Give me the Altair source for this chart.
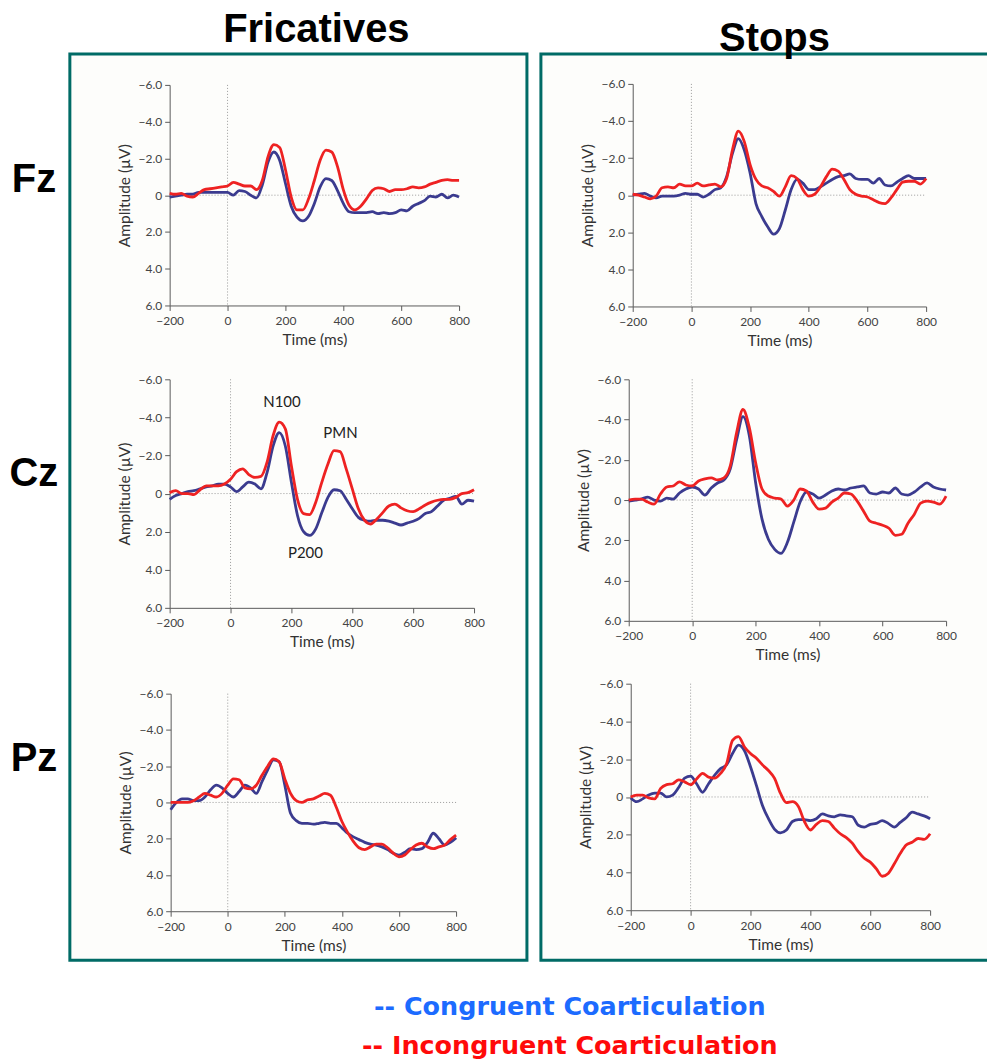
import altair as alt
import pandas as pd

# ---------------- data ----------------
TIMES = list(range(-200, 801, 20))   # ms, sample grid

FRIC_FZ_CON = [0.1, 0.05, 0, -0.05, -0.05, -0.15, -0.15, -0.15, -0.15, -0.15,
               -0.15, 0, -0.25, -0.2, 0, 0.15, -0.55, -1.8, -2.35, -1.9,
               -0.65, 0.6, 1.2, 1.4, 1.15, 0.45, -0.45, -0.9, -0.8, -0.25,
               0.45, 0.9, 0.95, 0.95, 0.95, 0.9, 1.0, 0.95, 1.0, 0.95,
               0.8, 0.85, 0.6, 0.45, 0.3, 0.05, 0.1, -0.05, 0.15, 0.0, 0.1]
FRIC_FZ_INC = [-0.1, -0.05, -0.1, 0.05, 0.1, -0.1, -0.3, -0.35, -0.4, -0.45,
               -0.5, -0.7, -0.6, -0.5, -0.5, -0.3, -0.8, -2.1, -2.75, -2.6,
               -1.4, 0.1, 0.8, 0.8, 0.2, -0.8, -1.9, -2.45, -2.35, -1.55,
               -0.3, 0.55, 0.8, 0.6, 0.2, -0.25, -0.4, -0.35, -0.2, -0.3,
               -0.3, -0.35, -0.45, -0.4, -0.45, -0.6, -0.7, -0.8, -0.85, -0.8, -0.8]

STOP_FZ_CON = [0, -0.05, -0.1, 0.05, 0.15, 0.05, 0.05, 0.05, 0, -0.1,
               -0.05, -0.05, 0.1, -0.05, -0.3, -0.4, -1.0, -2.25, -3.05, -2.45,
               -1.2, 0.45, 1.15, 1.7, 2.1, 1.8, 0.8, -0.3, -0.85, -0.65,
               -0.3, -0.3, -0.45, -0.65, -0.85, -1.0, -1.05, -1.15, -0.9, -0.85,
               -0.85, -0.65, -0.9, -0.55, -0.5, -0.7, -0.9, -1.05, -0.9, -0.9, -0.9]
STOP_FZ_INC = [-0.05, 0, 0.1, 0.2, 0.05, -0.4, -0.45, -0.4, -0.6, -0.5,
               -0.5, -0.65, -0.5, -0.55, -0.6, -0.45, -0.9, -2.45, -3.45, -2.9,
               -1.65, -0.85, -0.5, -0.4, -0.2, 0.05, -0.45, -1.05, -0.9, -0.3,
               0.05, -0.05, -0.45, -1.0, -1.4, -1.3, -0.85, -0.3, -0.05, 0.05,
               0.1, 0.25, 0.4, 0.45, 0.15, -0.3, -0.7, -0.75, -0.75, -0.6, -0.9]

FRIC_CZ_CON = [0.3, 0.1, 0, -0.1, -0.15, -0.25, -0.35, -0.4, -0.5, -0.5,
               -0.35, -0.1, -0.35, -0.6, -0.5, -0.25, -1.1, -2.5, -3.2, -2.5,
               -0.6, 1.15, 2.0, 2.2, 1.85, 1.0, 0.2, -0.2, -0.15, 0.3,
               0.8, 1.25, 1.4, 1.45, 1.4, 1.4, 1.45, 1.55, 1.65, 1.55,
               1.45, 1.3, 1.05, 0.95, 0.65, 0.35, 0.25, 0.15, 0.55, 0.35, 0.4]
FRIC_CZ_INC = [-0.05, -0.15, 0, 0, 0.05, -0.2, -0.4, -0.4, -0.4, -0.5,
               -0.75, -1.15, -1.3, -1.0, -0.85, -0.9, -1.65, -3.05, -3.75, -3.4,
               -1.45, 0.3, 1.05, 1.1, 0.45, -0.6, -1.55, -2.25, -2.2, -1.3,
               -0.25, 0.8, 1.4, 1.6, 1.35, 1.0, 0.65, 0.55, 0.75, 0.9,
               0.95, 0.8, 0.6, 0.45, 0.35, 0.3, 0.3, 0.2, 0.0, -0.05, -0.2]

STOP_CZ_CON = [0.05, 0, -0.05, -0.15, 0, 0.05, -0.1, -0.05, -0.35, -0.55,
               -0.65, -0.55, -0.25, -0.6, -0.85, -1.0, -1.55, -3.0, -4.15, -3.2,
               -0.85, 0.95, 1.95, 2.45, 2.65, 2.1, 1.1, 0.1, -0.4, -0.3,
               -0.1, -0.25, -0.45, -0.55, -0.5, -0.6, -0.65, -0.7, -0.35, -0.3,
               -0.4, -0.35, -0.6, -0.3, -0.25, -0.4, -0.65, -0.85, -0.65, -0.55, -0.5]
STOP_CZ_INC = [0, -0.05, -0.05, 0.1, 0.2, -0.3, -0.65, -0.7, -0.9, -0.75,
               -0.7, -0.95, -1.05, -1.1, -1.0, -1.1, -1.7, -3.35, -4.5, -3.6,
               -1.85, -0.55, -0.2, -0.1, -0.05, 0.3, 0.0, -0.55, -0.45, 0.1,
               0.45, 0.4, 0.1, -0.1, -0.35, -0.3, 0.05, 0.55, 1.05, 1.15,
               1.25, 1.4, 1.75, 1.7, 1.15, 0.7, 0.15, 0.05, 0.1, 0.2, -0.2]

FRIC_PZ_CON = [0.4, 0, -0.2, -0.2, -0.1, -0.1, -0.3, -0.7, -0.95, -0.8,
               -0.5, -0.3, -0.6, -0.95, -0.8, -0.5, -1.15, -1.8, -2.35, -2.25,
               -0.95, 0.6, 1.0, 1.15, 1.15, 1.2, 1.15, 1.1, 1.15, 1.15,
               1.4, 1.7, 1.9, 2.05, 2.2, 2.3, 2.35, 2.45, 2.6, 2.8,
               2.9, 2.75, 2.55, 2.6, 2.55, 2.2, 1.7, 2.0, 2.35, 2.2, 1.95]
FRIC_PZ_INC = [0, 0, 0, 0, -0.1, -0.3, -0.5, -0.4, -0.3, -0.5,
               -0.95, -1.3, -1.25, -0.8, -0.75, -0.95, -1.5, -2.0, -2.4, -2.25,
               -1.3, -0.5, -0.1, 0, -0.15, -0.2, -0.35, -0.5, -0.4, 0.25,
               1.05, 1.65, 2.15, 2.5, 2.6, 2.45, 2.3, 2.3, 2.5, 2.8,
               3.0, 2.9, 2.6, 2.35, 2.25, 2.45, 2.55, 2.45, 2.35, 2.05, 1.8]

STOP_PZ_CON = [0.05, 0.25, 0.1, -0.1, -0.2, -0.2, 0, -0.1, -0.5, -1.0,
               -1.1, -0.7, -0.25, -0.7, -1.15, -1.5, -1.7, -2.3, -2.75, -2.45,
               -1.6, -0.6, 0.45, 1.15, 1.7, 1.9, 1.75, 1.3, 1.2, 1.2,
               1.25, 1.15, 0.9, 1.0, 1.05, 0.95, 1.0, 1.05, 1.5, 1.6,
               1.45, 1.4, 1.25, 1.4, 1.6, 1.35, 1.1, 0.8, 0.9, 1.0, 1.15]
STOP_PZ_INC = [0, -0.1, -0.1, 0.05, 0.1, -0.45, -0.65, -0.7, -0.9, -0.8,
               -0.65, -0.95, -1.25, -1.05, -1.0, -1.25, -1.75, -3.0, -3.2, -2.65,
               -2.3, -2.05, -1.7, -1.4, -1.0, -0.2, 0.3, 0.25, 0.5, 1.3,
               1.75, 1.45, 1.25, 1.3, 1.65, 1.95, 2.15, 2.45, 2.9, 3.25,
               3.45, 3.8, 4.2, 4.05, 3.55, 3.0, 2.55, 2.4, 2.2, 2.25, 1.95]

CONDITIONS = ["Congruent", "Incongruent"]
COLUMN_TITLES = ["Fricatives", "Stops"]
ROW_LABELS = ["Fz", "Cz", "Pz"]
X_TICKS = [-200, 0, 200, 400, 600, 800]
Y_TICKS = [-6, -4, -2, 0, 2, 4, 6]
ANNOT_TEXT = ["N100", "PMN", "P200"]
ANNOT_TIME = [169, 361, 246]
ANNOT_AMP = [-4.8, -3.2, 3.1]
LEGEND_TEXT = ["-- Congruent Coarticulation", "-- Incongruent Coarticulation"]

# ---------------- layout (pixels) ----------------
COL_W = [458, 450]
COL_H = 908
# per panel: x-range, y-range inside each column view
LAYOUT = {
    ("Fricatives", "Fz"): ([100, 390], [31, 252]),
    ("Fricatives", "Cz"): ([100, 405], [326, 555]),
    ("Fricatives", "Pz"): ([101, 387], [641, 859]),
    ("Stops", "Fz"): ([92, 386], [30, 253]),
    ("Stops", "Cz"): ([88, 406], [326, 568]),
    ("Stops", "Pz"): ([90, 390], [631, 858]),
}
SERIES = {
    ("Fricatives", "Fz"): (FRIC_FZ_CON, FRIC_FZ_INC),
    ("Fricatives", "Cz"): (FRIC_CZ_CON, FRIC_CZ_INC),
    ("Fricatives", "Pz"): (FRIC_PZ_CON, FRIC_PZ_INC),
    ("Stops", "Fz"): (STOP_FZ_CON, STOP_FZ_INC),
    ("Stops", "Cz"): (STOP_CZ_CON, STOP_CZ_INC),
    ("Stops", "Pz"): (STOP_PZ_CON, STOP_PZ_INC),
}

BLUE = "#3b3b8f"
RED = "#ee2222"
AXIS_COLOR = "#5a5a5a"
FONT = "Lato"
BOLD_FONT = "Liberation Sans"
LEGEND_FONT = "DejaVu Sans"


def make_panel(key):
    xr, yr = LAYOUT[key]
    con, inc = SERIES[key]
    n = len(TIMES)
    df = pd.DataFrame({
        "time": TIMES + TIMES,
        "amp": con + inc,
        "cond": [CONDITIONS[0]] * n + [CONDITIONS[1]] * n,
    })
    common = dict(labelFlush=False, labelOverlap=False, grid=False, tickSize=5,
                  domainColor=AXIS_COLOR, tickColor=AXIS_COLOR, labelColor="#444",
                  labelFont=FONT, labelFontSize=12, titleFont=FONT,
                  titleFontSize=15.5, titleFontWeight="normal", titleColor="#333")
    x_axis = alt.Axis(orient="bottom", offset=yr[1] - COL_H, values=X_TICKS,
                      title="Time (ms)", titlePadding=6, labelPadding=5, **common)
    y_axis = alt.Axis(orient="left", offset=-xr[0], values=Y_TICKS,
                      labelExpr="datum.value == 0 ? '0' : format(datum.value, '.1f')",
                      title="Amplitude (µV)", titlePadding=6, labelPadding=3, **common)
    xs = alt.Scale(domain=[-200, 800], range=xr, nice=False, zero=False)
    ys = alt.Scale(domain=[-6, 6], range=yr, nice=False, zero=False)
    x_enc = alt.X("time:Q", scale=xs, axis=x_axis)
    y_enc = alt.Y("amp:Q", scale=ys, axis=y_axis)

    vline = alt.Chart(pd.DataFrame({"time": [0], "amp": [-6], "amp2": [6]})).mark_rule(
        color="#9a9a9a", strokeDash=[1, 2], strokeWidth=1
    ).encode(x=x_enc, y=y_enc, y2="amp2:Q")
    hline = alt.Chart(pd.DataFrame({"time": [-200], "time2": [800], "amp": [0]})).mark_rule(
        color="#9a9a9a", strokeDash=[1, 2], strokeWidth=1
    ).encode(x=x_enc, x2="time2:Q", y=y_enc)
    lines = alt.Chart(df).mark_line(interpolate="monotone", strokeWidth=2.8).encode(
        x=x_enc, y=y_enc,
        color=alt.Color("cond:N", scale=alt.Scale(domain=CONDITIONS, range=[BLUE, RED]),
                        legend=None),
    )
    layers = [vline, hline, lines]
    if key == ("Fricatives", "Cz"):
        ann = alt.Chart(pd.DataFrame({"time": ANNOT_TIME, "amp": ANNOT_AMP,
                                      "label": ANNOT_TEXT})).mark_text(
            font=FONT, fontSize=15, color="#222"
        ).encode(x=x_enc, y=y_enc, text="label:N")
        layers.append(ann)
    return alt.layer(*layers)


def make_column(ci, title, dx, offset):
    panels = [make_panel((title, r)) for r in ROW_LABELS]
    extra = []
    if ci == 0:
        for r, yv in zip(ROW_LABELS, [126, 421, 706]):
            extra.append(
                alt.Chart(pd.DataFrame({"t": [r]})).mark_text(
                    font=BOLD_FONT, fontWeight="bold", fontSize=40, color="#000",
                    align="center", baseline="middle"
                ).encode(x=alt.value(-36), y=alt.value(yv), text="t:N")
            )
        for txt, col, yv in zip(LEGEND_TEXT, ["#1c6bff", "#ff0a0a"], [963, 1002]):
            extra.append(
                alt.Chart(pd.DataFrame({"t": [txt]})).mark_text(
                    font=LEGEND_FONT, fontWeight="bold", fontSize=25.5, color=col,
                    align="center", baseline="alphabetic"
                ).encode(x=alt.value(501), y=alt.value(yv), text="t:N")
            )
    ch = alt.layer(*panels, *extra).resolve_scale(
        x="independent", y="independent"
    ).resolve_axis(x="independent", y="independent").properties(
        width=COL_W[ci], height=COL_H,
        title=alt.Title(title, font=BOLD_FONT, fontWeight="bold", fontSize=40,
                        color="#000", anchor="middle", frame="group", dx=dx,
                        offset=offset, baseline="alphabetic"),
    )
    return ch


left = make_column(0, COLUMN_TITLES[0], 18, -28)
right = make_column(1, COLUMN_TITLES[1], 9, -37)

chart = alt.hconcat(left, right, spacing=14, bounds="flush").properties(
    padding={"left": 8, "top": 7, "right": -5, "bottom": 0},
    background="white",
).configure_view(stroke="#006b66", strokeWidth=3, fill="#fdfdfb")

chart.save("out.html", embed_options={"renderer": "svg", "actions": False})
